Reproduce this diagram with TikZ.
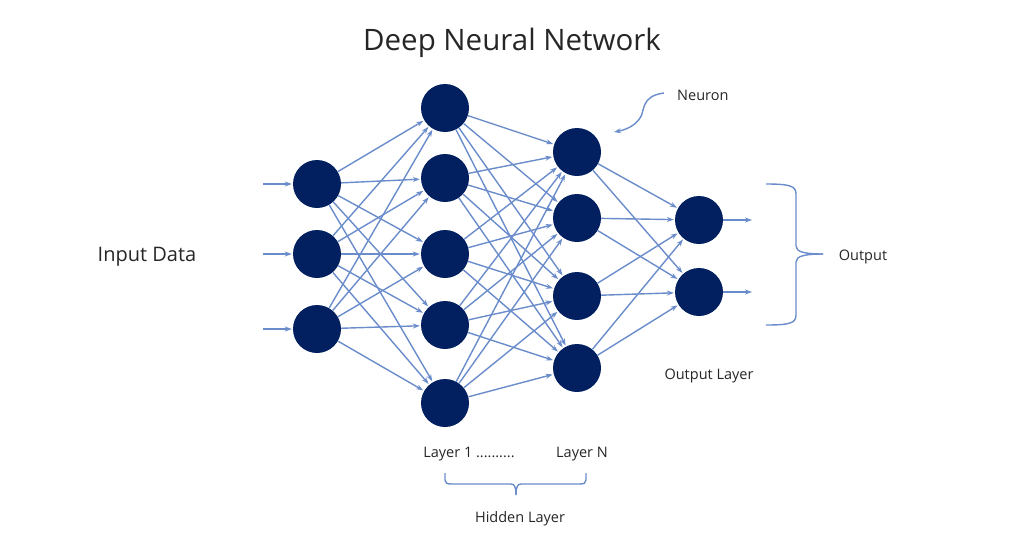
\documentclass[tikz,border=0pt]{standalone}
\usepackage{fontspec}
\setmainfont{Open Sans}
\usetikzlibrary{arrows.meta}
\definecolor{neuron}{HTML}{02205F}
\definecolor{edge}{HTML}{6A8CCB}
\definecolor{txt}{HTML}{262626}
\tikzset{
  neuronnode/.style={circle, fill=neuron, minimum size=48pt, inner sep=0pt},
  link/.style={draw=edge, line width=1.4pt, -{Stealth[length=7pt,width=5pt]}, shorten >=1pt},
  bracestyle/.style={draw=edge, line width=1.4pt},
  lbl/.style={text=txt, inner sep=0pt}
}
\begin{document}
\begin{tikzpicture}[x=1pt,y=-1pt]
\useasboundingbox (0,0) rectangle (1024,538);
% input layer
\node[neuronnode] (i1) at (317,184) {};
\node[neuronnode] (i2) at (317,254) {};
\node[neuronnode] (i3) at (317,329) {};
% hidden layer 1
\node[neuronnode] (h1) at (445,108) {};
\node[neuronnode] (h2) at (445,178) {};
\node[neuronnode] (h3) at (445,254) {};
\node[neuronnode] (h4) at (445,325) {};
\node[neuronnode] (h5) at (445,403) {};
% hidden layer N
\node[neuronnode] (n1) at (577,152) {};
\node[neuronnode] (n2) at (577,218) {};
\node[neuronnode] (n3) at (577,296) {};
\node[neuronnode] (n4) at (577,368) {};
% output layer
\node[neuronnode] (o1) at (699,220) {};
\node[neuronnode] (o2) at (699,292) {};
% free ends
\coordinate (a1) at (263,184);
\coordinate (a2) at (263,254);
\coordinate (a3) at (263,329);
\coordinate (b1) at (752,220);
\coordinate (b2) at (752,292);
% connections
\foreach \k in {1,2,3}{\draw[link] (a\k) -- (i\k);}
\foreach \a in {1,2,3}{\foreach \b in {1,...,5}{\draw[link] (i\a) -- (h\b);}}
\foreach \a in {1,...,5}{\foreach \b in {1,...,4}{\draw[link] (h\a) -- (n\b);}}
\foreach \a in {1,...,4}{\foreach \b in {1,2}{\draw[link] (n\a) -- (o\b);}}
\foreach \k in {1,2}{\draw[link,shorten >=0pt] (o\k) -- (b\k);}
% labels
\node[lbl, font=\fontsize{29.5}{34}\selectfont] (title) at (512,43) {Deep Neural Network};
\node[lbl, font=\fontsize{20}{24}\selectfont] (inp) at (147,257) {Input Data};
\node[lbl, font=\fontsize{14.5}{17}\selectfont, anchor=west] (neu) at (677,95) {Neuron};
\node[lbl, font=\fontsize{14.5}{17}\selectfont] (out) at (863,257) {Output};
\node[lbl, font=\fontsize{14.5}{17}\selectfont] (outl) at (709,376) {Output Layer};
\node[lbl, font=\fontsize{14.5}{17}\selectfont] (l1) at (469,454) {Layer 1 ..........};
\node[lbl, font=\fontsize{14.5}{17}\selectfont] (ln) at (582,454) {Layer N};
\node[lbl, font=\fontsize{14.5}{17}\selectfont] (hid) at (520,519) {Hidden Layer};
% neuron pointer
\coordinate (np) at (664,93);
\coordinate (nq) at (614,132);
\draw[bracestyle, -{Stealth[length=7pt,width=5pt]}] (np) .. controls (640,96) and (645,112) .. (640,118) .. controls (635,126) and (625,130) .. (nq);
% right brace
\draw[bracestyle] (766,184) .. controls (790,184) and (796,186) .. (796,194) -- (796,246) .. controls (796,252) and (805,254) .. (823,254);
\draw[bracestyle] (766,325) .. controls (790,325) and (796,323) .. (796,315) -- (796,262) .. controls (796,256) and (805,254) .. (823,254);
% bottom brace
\draw[bracestyle] (445,473) -- (445,480) .. controls (445,483) and (447,484) .. (451,484) -- (511,484) .. controls (514,484) and (516,486) .. (516,495);
\draw[bracestyle] (586,473) -- (586,480) .. controls (586,483) and (584,484) .. (580,484) -- (521,484) .. controls (518,484) and (516,486) .. (516,495);
\end{tikzpicture}
\end{document}
